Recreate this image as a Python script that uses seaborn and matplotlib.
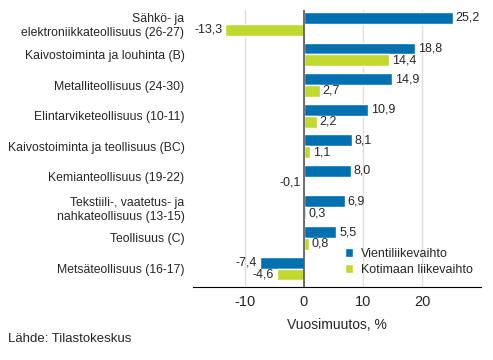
import pandas as pd
import matplotlib.pyplot as plt
import seaborn as sns

categories = [
    "Sähkö- ja\nelektroniikkateollisuus (26-27)",
    "Kaivostoiminta ja louhinta (B)",
    "Metalliteollisuus (24-30)",
    "Elintarviketeollisuus (10-11)",
    "Kaivostoiminta ja teollisuus (BC)",
    "Kemianteollisuus (19-22)",
    "Tekstiili-, vaatetus- ja\nnahkateollisuus (13-15)",
    "Teollisuus (C)",
    "Metsäteollisuus (16-17)",
]
vienti = [25.2, 18.8, 14.9, 10.9, 8.1, 8.0, 6.9, 5.5, -7.4]
kotimaa = [-13.3, 14.4, 2.7, 2.2, 1.1, -0.1, 0.3, 0.8, -4.6]
series = ["Vientiliikevaihto", "Kotimaan liikevaihto"]
colors = ["#0070b0", "#c1d82f"]
xticks = [-10, 0, 10, 20]

df = pd.DataFrame({
    "toimiala": categories * 2,
    "sarja": [series[0]] * len(categories) + [series[1]] * len(categories),
    "muutos": vienti + kotimaa,
})

sns.set_style("white")
plt.rcParams["font.family"] = ["Liberation Sans", "DejaVu Sans"]

fig, ax = plt.subplots(figsize=(4.93, 3.6), dpi=100)
fig.subplots_adjust(left=0.391, right=0.976, top=0.972, bottom=0.203)

sns.barplot(data=df, y="toimiala", x="muutos", hue="sarja", orient="h",
            palette=colors, width=0.78, ax=ax, saturation=1)

for cont, vals in zip(ax.containers, [vienti, kotimaa]):
    labels = [f"{v:.1f}".replace(".", ",") for v in vals]
    ax.bar_label(cont, labels=labels, padding=2, fontsize=9)

ax.set_ylim(8.6, -0.45)
ax.set_xlim(-18.8, 30)
ax.set_xticks(xticks)
ax.set_xticklabels([str(t) for t in xticks], fontsize=10.5)
ax.tick_params(axis="y", labelsize=8.8, length=0, pad=6)
ax.tick_params(axis="x", length=0, pad=6)
ax.set_ylabel("")
ax.set_xlabel("Vuosimuutos, %", fontsize=10, labelpad=6)
ax.grid(axis="x", color="#dddddd", linewidth=1)
ax.axvline(0, color="#555555", linewidth=1.2, zorder=3)
for s in ["top", "right", "left"]:
    ax.spines[s].set_visible(False)
ax.spines["bottom"].set_color("black")

ax.legend(loc="lower right", frameon=False, fontsize=9, handlelength=0.7,
          handleheight=0.7, handletextpad=0.6, labelspacing=0.3,
          bbox_to_anchor=(1.01, 0.0))

fig.text(0.016, 0.05, "Lähde: Tilastokeskus", fontsize=9.5)

fig.savefig("out.png", dpi=100)
